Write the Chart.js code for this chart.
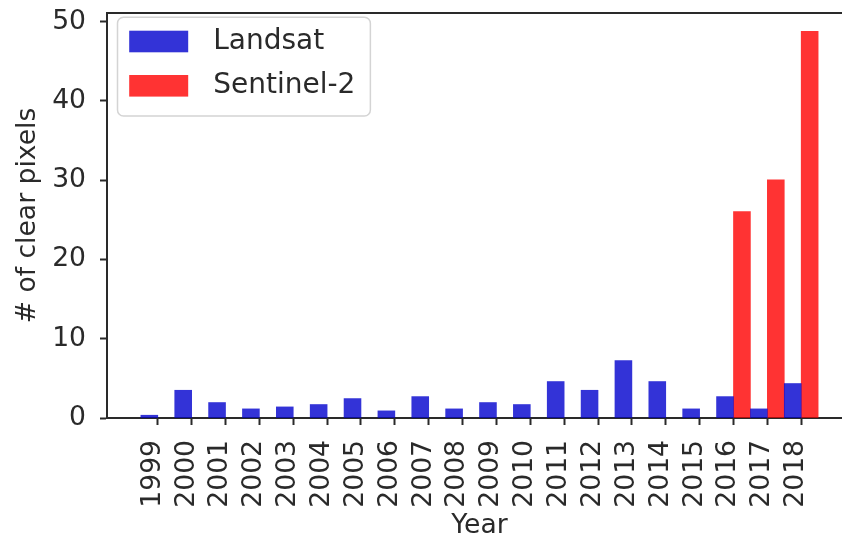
<!DOCTYPE html>
<html>
<head>
<meta charset="utf-8">
<script src="https://cdn.jsdelivr.net/npm/chart.js@4/dist/chart.umd.min.js"></script>
<style>
  html, body { margin: 0; padding: 0; overflow: hidden; background: #fff; }
  /* the axes run a little past the right edge of the window, like the original */
  #wrap { position: absolute; left: 0; top: 0; width: 880px; height: 541px; }
</style>
</head>
<body>
<div id="wrap"><canvas id="clearChart"></canvas></div>
<script>
const years = ['1999', '2000', '2001', '2002', '2003', '2004', '2005', '2006', '2007', '2008',
               '2009', '2010', '2011', '2012', '2013', '2014', '2015', '2016', '2017', '2018'];
const landsat = [0.35, 3.5, 1.95, 1.15, 1.4, 1.7, 2.45, 0.9, 2.7, 1.15,
                 1.95, 1.7, 4.6, 3.5, 7.25, 4.6, 1.15, 2.7, 1.15, 4.35];
const sentinel = [null, null, null, null, null, null, null, null, null, null,
                  null, null, null, null, null, null, null, 26.05, 30.05, 48.8];
const yTicks = [0, 10, 20, 30, 40, 50];
const yMax = 51.1;

const FONT = 'DejaVu Sans';
const SIZE = 26.6;
const INK = '#2a2a2a';

// boxed legend in the upper left corner + top/right spines
const axesExtras = {
    id: 'axesExtras',
    afterDraw(chart) {
        const { ctx, chartArea: ca } = chart;
        ctx.save();

        ctx.strokeStyle = INK;
        ctx.lineWidth = 2;
        ctx.beginPath();
        ctx.moveTo(ca.left - 1, ca.top);
        ctx.lineTo(ca.right, ca.top);
        ctx.lineTo(ca.right, ca.bottom);
        ctx.stroke();

        ctx.font = '28px "' + FONT + '"';
        const items = chart.data.datasets;
        const textW = Math.max(...items.map(d => ctx.measureText(d.label).width));
        const bx = ca.left + 10.5, by = ca.top + 4.3;
        const patchW = 59, patchH = 21.6, step = 44.3;
        const bw = 11.7 + patchW + 25 + textW + 15;
        const bh = 98.7;

        ctx.beginPath();
        ctx.roundRect(bx, by, bw, bh, 6);
        ctx.fillStyle = 'rgba(255,255,255,0.8)';
        ctx.fill();
        ctx.strokeStyle = '#d4d4d4';
        ctx.lineWidth = 1.5;
        ctx.stroke();

        ctx.textAlign = 'left';
        ctx.textBaseline = 'middle';
        items.forEach((d, i) => {
            const py = by + 13.4 + i * step;
            ctx.fillStyle = d.backgroundColor;
            ctx.fillRect(bx + 11.7, py, patchW, patchH);
            ctx.fillStyle = INK;
            ctx.fillText(d.label, bx + 11.7 + patchW + 25, py + patchH / 2);
        });
        ctx.restore();
    }
};

new Chart(document.getElementById('clearChart'), {
    type: 'bar',
    data: {
        datasets: [{
            label: 'Landsat',
            data: landsat.map((v, i) => ({ x: i, y: v })),
            backgroundColor: 'rgba(0, 0, 205, 0.8)'
        }, {
            label: 'Sentinel-2',
            data: sentinel.map((v, i) => ({ x: i, y: v })),
            backgroundColor: 'rgba(255, 0, 0, 0.8)'
        }]
    },
    options: {
        responsive: true,
        maintainAspectRatio: false,
        animation: false,
        layout: { padding: { top: 13, right: 28, left: 0, bottom: 0 } },
        datasets: { bar: { categoryPercentage: 1, barPercentage: 1 } },
        plugins: {
            legend: { display: false },
            tooltip: { enabled: false }
        },
        scales: {
            x: {
                type: 'linear',
                min: -1.5,
                max: years.length + 0.5,
                offset: false,
                z: 1,
                grid: { drawOnChartArea: false, offset: false, tickLength: 7, tickWidth: 2, tickColor: INK },
                border: { color: INK, width: 2 },
                afterBuildTicks: s => { s.ticks = years.map((_, i) => ({ value: i })); },
                ticks: {
                    autoSkip: false,
                    minRotation: 90,
                    maxRotation: 90,
                    padding: 15,
                    labelOffset: -5,
                    color: INK,
                    font: { family: FONT, size: SIZE },
                    callback: (v, i) => years[i]
                },
                title: { display: true, text: 'Year', color: INK, font: { family: FONT, size: SIZE, lineHeight: 1.1 }, padding: 0 },
                afterFit: s => { s.height = 123; s.paddingLeft = 0; s.paddingRight = 0; }
            },
            y: {
                min: 0,
                max: yMax,
                afterBuildTicks: s => { s.ticks = yTicks.map(v => ({ value: v })); },
                grid: { drawOnChartArea: false, tickLength: 7, tickWidth: 2, tickColor: INK },
                border: { color: INK, width: 2 },
                ticks: { padding: 14, color: INK, font: { family: FONT, size: SIZE } },
                title: { display: true, text: '# of clear pixels', color: INK, font: { family: FONT, size: SIZE }, padding: { top: 12 } },
                afterFit: s => { s.width = 107; s.paddingTop = 0; s.paddingBottom = 0; }
            }
        }
    },
    plugins: [axesExtras]
});
</script>
</body>
</html>
